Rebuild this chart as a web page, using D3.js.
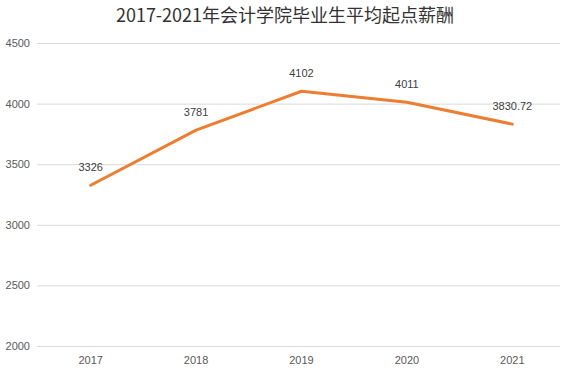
<!DOCTYPE html>
<html>
<head>
<meta charset="utf-8">
<script src="https://cdn.jsdelivr.net/npm/d3@7"></script>
<style>
  body { margin: 0; background: #fff; }
  text { font-family: "Liberation Sans", Arial, sans-serif; }
</style>
</head>
<body>
<div id="chart"></div>
<script>
var years = ["2017", "2018", "2019", "2020", "2021"];
var salary = [3326, 3781, 4102, 4011, 3830.72];
var yTicks = [2000, 2500, 3000, 3500, 4000, 4500];
var title = "2017-2021年会计学院毕业生平均起点薪酬";

var width = 570, height = 371;

var svg = d3.select("#chart").append("svg")
    .attr("width", width)
    .attr("height", height);

var x = d3.scaleBand().domain(years).range([38, 565]);
var y = d3.scaleLinear().domain([2000, 4500]).range([346, 43]);

// gridlines
svg.selectAll(".grid")
    .data(yTicks)
    .enter().append("line")
    .attr("x1", 37).attr("x2", 560)
    .attr("y1", function(d) { return y(d) + 0.5 })
    .attr("y2", function(d) { return y(d) + 0.5 })
    .attr("stroke", "#d9d9d9")
    .attr("stroke-width", 1)

// y labels
svg.selectAll(".ylab")
    .data(yTicks)
    .enter().append("text")
    .attr("x", 30)
    .attr("y", function(d) { return y(d) + 4 })
    .attr("text-anchor", "end")
    .attr("font-size", 11)
    .attr("fill", "#595959")
    .text(function(d) { return d })

// x labels
svg.selectAll(".xlab")
    .data(years)
    .enter().append("text")
    .attr("x", function(d) { return x(d) + x.bandwidth() / 2 })
    .attr("y", 364)
    .attr("text-anchor", "middle")
    .attr("font-size", 11)
    .attr("fill", "#595959")
    .text(function(d) { return d })

var line = d3.line()
    .x(function(d, i) { return x(years[i]) + x.bandwidth() / 2 })
    .y(function(d) { return y(d) })

svg.append("path")
    .datum(salary)
    .attr("d", line)
    .attr("fill", "none")
    .attr("stroke", "#ed7d31")
    .attr("stroke-width", 3)
    .attr("stroke-linecap", "round")
    .attr("stroke-linejoin", "round")

// value labels
svg.selectAll(".vlab")
    .data(salary)
    .enter().append("text")
    .attr("x", function(d, i) { return x(years[i]) + x.bandwidth() / 2 })
    .attr("y", function(d) { return y(d) - 14 })
    .attr("text-anchor", "middle")
    .attr("font-size", 11)
    .attr("fill", "#404040")
    .text(function(d) { return d })

svg.append("text")
    .attr("x", width / 2)
    .attr("y", 22)
    .attr("text-anchor", "middle")
    .attr("font-size", 18)
    .attr("fill", "#333")
    .style("font-family", "'Noto Sans CJK SC', sans-serif")
    .text(title)
</script>
</body>
</html>
